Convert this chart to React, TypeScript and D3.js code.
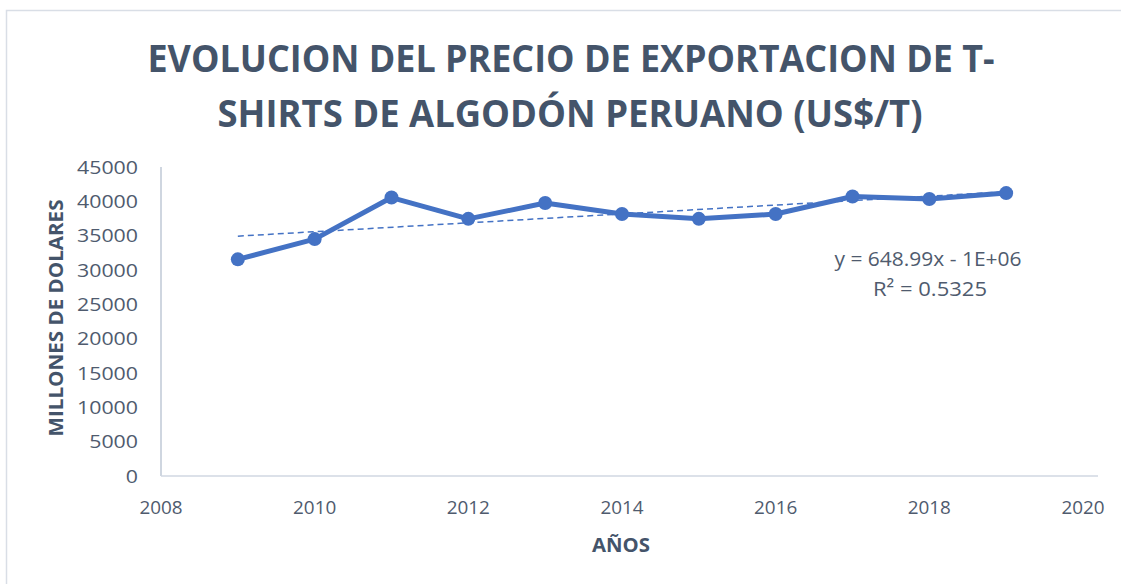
import React from "react";
import * as d3 from "d3";

const years = [2009, 2010, 2011, 2012, 2013, 2014, 2015, 2016, 2017, 2018, 2019];
const prices = [31550, 34500, 40550, 37450, 39750, 38150, 37450, 38150, 40700, 40350, 41200];
const yTicks = [0, 5000, 10000, 15000, 20000, 25000, 30000, 35000, 40000, 45000];
const xTicks = [2008, 2010, 2012, 2014, 2016, 2018, 2020];
const titleLines = ["EVOLUCION DEL PRECIO DE EXPORTACION DE T-", "SHIRTS DE ALGODÓN PERUANO (US$/T)"];
const equationLines = ["y = 648.99x - 1E+06", "R² = 0.5325"];

const W = 1121;
const H = 584;
const TEXT = "#44546A";
const TICK = "#4F5B6E";
const BLUE = "#4472C4";
const FONT = "'Open Sans', 'Noto Sans', sans-serif";
const DIGIT_W = 12.2;

export default function App() {
  const x = d3.scaleLinear().domain([2008, 2020]).range([161, 1083]);
  const y = d3.scaleLinear().domain([0, 45000]).range([476, 167]);

  const mx = d3.mean(years)!;
  const my = d3.mean(prices)!;
  const slope =
    d3.sum(years.map((v, i) => (v - mx) * (prices[i] - my))) /
    d3.sum(years.map((v) => (v - mx) * (v - mx)));
  const icpt = my - slope * mx;
  const x0 = years[0];
  const x1 = years[years.length - 1];

  const line = d3
    .line<number>()
    .x((_, i) => x(years[i]))
    .y((d) => y(d));

  return (
    <svg
      width={W}
      height={H}
      style={{ position: "absolute", left: 0, top: 0, background: "#fff" }}
      fontFamily={FONT}
    >
      <rect x={6.5} y={10.5} width={1200} height={700} fill="none" stroke="#D9DEE6" strokeWidth={1.5} />

      <text x={571} y={72} textAnchor="middle" fontSize={37} fontWeight={700} fill={TEXT} textLength={847} lengthAdjust="spacingAndGlyphs">
        {titleLines[0]}
      </text>
      <text x={570} y={127} textAnchor="middle" fontSize={37} fontWeight={700} fill={TEXT} textLength={705} lengthAdjust="spacingAndGlyphs">
        {titleLines[1]}
      </text>

      {/* axes */}
      <line x1={161} x2={161} y1={167} y2={476} stroke="#BFC8D6" strokeWidth={1.5} />
      <line x1={161} x2={1098} y1={476} y2={476} stroke="#D0D7E2" strokeWidth={1.5} />

      {yTicks.map((t) => {
        const s = String(t);
        return (
          <text key={t} x={138} y={y(t) + 6.5} textAnchor="end" fontSize={18} fill={TICK} textLength={s.length * DIGIT_W} lengthAdjust="spacingAndGlyphs">
            {s}
          </text>
        );
      })}
      {xTicks.map((t) => (
        <text key={t} x={x(t)} y={514} textAnchor="middle" fontSize={18} fill={TICK} textLength={4 * 10.8} lengthAdjust="spacingAndGlyphs">
          {t}
        </text>
      ))}

      <text x={621} y={552} textAnchor="middle" fontSize={19} fontWeight={700} fill={TEXT} textLength={58} lengthAdjust="spacingAndGlyphs">
        AÑOS
      </text>
      <text
        transform={`translate(63, 318) rotate(-90)`}
        textAnchor="middle"
        fontSize={19}
        fontWeight={700}
        fill={TEXT}
        textLength={237}
        lengthAdjust="spacingAndGlyphs"
      >
        MILLONES DE DOLARES
      </text>

      {/* trendline */}
      <line
        x1={x(x0)}
        y1={y(slope * x0 + icpt)}
        x2={x(x1)}
        y2={y(slope * x1 + icpt)}
        stroke={BLUE}
        strokeWidth={1.5}
        strokeDasharray="6,4"
      />

      <path d={line(prices) || ""} fill="none" stroke={BLUE} strokeWidth={5} strokeLinejoin="round" />
      {prices.map((v, i) => (
        <circle key={years[i]} cx={x(years[i])} cy={y(v)} r={7} fill={BLUE} />
      ))}

      <text x={928} y={266} textAnchor="middle" fontSize={20} fill={TICK} textLength={187} lengthAdjust="spacingAndGlyphs">
        {equationLines[0]}
      </text>
      <text x={930} y={296} textAnchor="middle" fontSize={20} fill={TICK} textLength={114} lengthAdjust="spacingAndGlyphs">
        {equationLines[1]}
      </text>
    </svg>
  );
}
